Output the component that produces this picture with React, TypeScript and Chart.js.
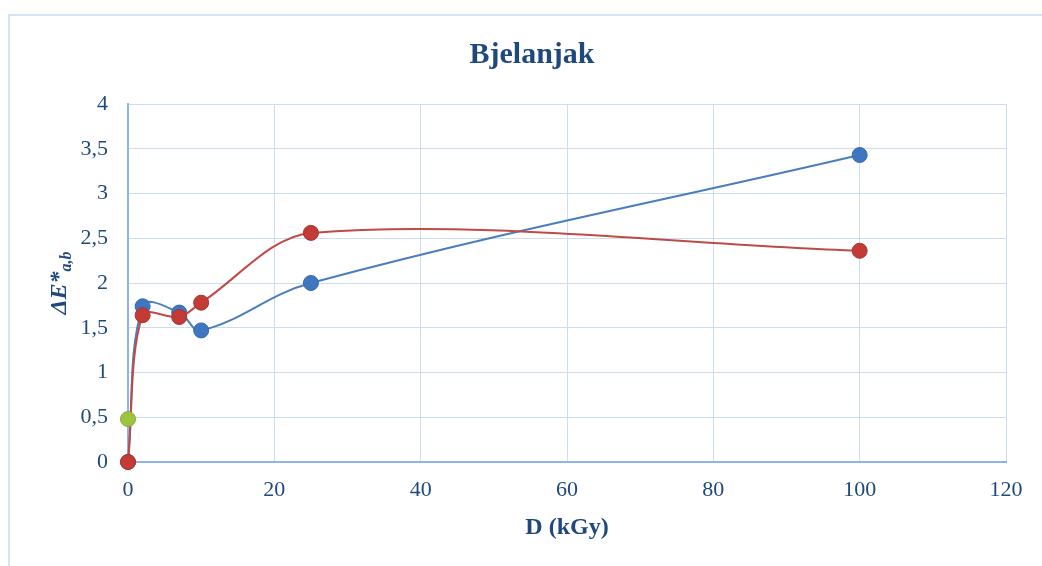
import React, { useEffect, useRef } from "react";
import { Chart, registerables } from "chart.js";

Chart.register(...registerables);

const doses = [0, 2, 7, 10, 25, 100];
const blueValues = [0, 1.74, 1.67, 1.47, 2.0, 3.43];
const redValues = [0, 1.64, 1.62, 1.78, 2.56, 2.36];
const greenDoses = [0];
const greenValues = [0.48];

const chartTitle = "Bjelanjak";
const xTitle = "D (kGy)";
const yTitleMain = "ΔE*";
const yTitleSub = "a,b";

const TEXT = "#1F497D";
const SERIF = "'Liberation Serif', 'Times New Roman', serif";

const toPoints = (xs: number[], ys: number[]) => xs.map((x, i) => ({ x, y: ys[i] }));

const titlesPlugin = {
  id: "customTitles",
  afterDraw(chart: any) {
    const ctx = chart.ctx as CanvasRenderingContext2D;
    ctx.save();
    ctx.fillStyle = TEXT;
    ctx.font = `bold 30px ${SERIF}`;
    ctx.textAlign = "center";
    ctx.textBaseline = "alphabetic";
    ctx.fillText(chartTitle, 522, 47);
    ctx.font = `bold 24px ${SERIF}`;
    ctx.fillText(xTitle, 557, 518);
    ctx.font = `italic bold 24px ${SERIF}`;
    const wMain = ctx.measureText(yTitleMain).width;
    ctx.font = `italic bold 16px ${SERIF}`;
    const wSub = ctx.measureText(yTitleSub).width;
    const total = wMain + wSub;
    const cy = 267;
    ctx.translate(56, cy + total / 2);
    ctx.rotate(-Math.PI / 2);
    ctx.textAlign = "left";
    ctx.font = `italic bold 24px ${SERIF}`;
    ctx.fillText(yTitleMain, 0, 0);
    ctx.font = `italic bold 16px ${SERIF}`;
    ctx.fillText(yTitleSub, wMain, 5);
    ctx.restore();
  },
};

export default function App() {
  const canvasRef = useRef<HTMLCanvasElement | null>(null);

  useEffect(() => {
    if (!canvasRef.current) return;
    const chart = new Chart(canvasRef.current, {
      type: "line",
      data: {
        datasets: [
          {
            label: "blue",
            data: toPoints(doses, blueValues),
            borderColor: "#4A7EBB",
            backgroundColor: "#3D76C1",
            pointBorderColor: "#3868A8",
            borderWidth: 2,
            pointRadius: 7.5,
            pointBorderWidth: 1,
            tension: 0.38,
            clip: false,
            order: 3,
          },
          {
            label: "red",
            data: toPoints(doses, redValues),
            borderColor: "#BE4B48",
            backgroundColor: "#C33A36",
            pointBorderColor: "#A8322F",
            borderWidth: 2,
            pointRadius: 7.5,
            pointBorderWidth: 1,
            tension: 0.32,
            clip: false,
            order: 2,
          },
          {
            label: "green",
            data: toPoints(greenDoses, greenValues),
            borderColor: "#9BBB59",
            backgroundColor: "#9CC43F",
            pointBorderColor: "#86AA3A",
            borderWidth: 2,
            pointRadius: 7.5,
            pointBorderWidth: 1,
            clip: false,
            order: 1,
          },
        ],
      },
      options: {
        responsive: false,
        animation: false,
        layout: { padding: { left: 38, right: 36, top: 88, bottom: 64 } },
        plugins: {
          legend: { display: false },
          title: { display: false },
          tooltip: { enabled: false },
        },
        scales: {
          x: {
            type: "linear",
            min: 0,
            max: 120,
            afterFit: (s: any) => {
              s.height = 40;
            },
            ticks: {
              stepSize: 20,
              color: TEXT,
              font: { family: SERIF, size: 22 },
              padding: 15,
              maxRotation: 0,
            },
            grid: { color: "#CDDDF0", lineWidth: 1, drawTicks: false },
            border: { color: "#8EB4E3", width: 2 },
          },
          y: {
            type: "linear",
            min: 0,
            max: 4,
            afterFit: (s: any) => {
              s.width = 80;
            },
            ticks: {
              stepSize: 0.5,
              color: TEXT,
              font: { family: SERIF, size: 22 },
              padding: 20,
              callback: (v: any) => String(v).replace(".", ","),
            },
            grid: { color: "#CDDDF0", lineWidth: 1, drawTicks: false },
            border: { color: "#8EB4E3", width: 2 },
          },
        },
      },
      plugins: [titlesPlugin],
    });
    return () => chart.destroy();
  }, []);

  return (
    <div
      style={{
        position: "absolute",
        left: 8,
        top: 14,
        width: 1034,
        height: 552,
        boxSizing: "border-box",
        borderLeft: "2px solid #D6E3F2",
        borderTop: "2px solid #D6E3F2",
        background: "#fff",
        overflow: "hidden",
      }}
    >
      <canvas
        ref={canvasRef}
        width={1032}
        height={550}
        style={{ position: "absolute", left: 0, top: 0, width: 1032, height: 550 }}
      />
    </div>
  );
}
